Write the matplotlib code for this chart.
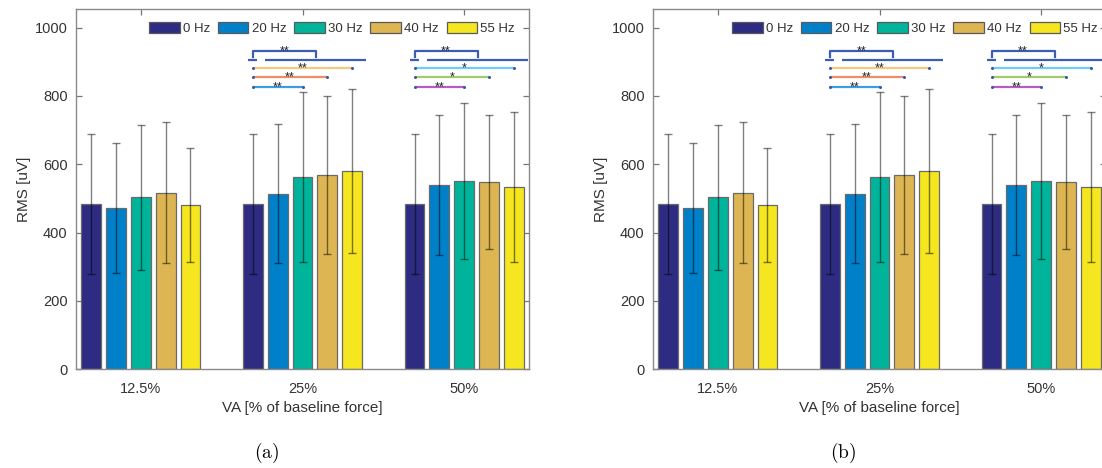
import matplotlib
matplotlib.use('Agg')
import matplotlib.pyplot as plt
from matplotlib.patches import Patch

plt.rcParams['font.family'] = ['Liberation Sans', 'DejaVu Sans']
plt.rcParams['mathtext.fontset'] = 'cm'

# ---- data ----
groups = ['12.5%', '25%', '50%']
series = ['0 Hz', '20 Hz', '30 Hz', '40 Hz', '55 Hz']
mean_0hz = [484, 485, 485]
mean_20hz = [472, 514, 540]
mean_30hz = [503, 562, 551]
mean_40hz = [517, 569, 548]
mean_55hz = [481, 580, 534]
sd_0hz = [205, 205, 205]
sd_20hz = [190, 203, 205]
sd_30hz = [211, 249, 227]
sd_40hz = [206, 232, 196]
sd_55hz = [168, 239, 219]
means = [mean_0hz, mean_20hz, mean_30hz, mean_40hz, mean_55hz]
sds = [sd_0hz, sd_20hz, sd_30hz, sd_40hz, sd_55hz]
colors = ['#2D2C82', '#0080C8', '#00B39B', '#DDB553', '#F5E61F']

# pairwise significance vs 0 Hz
sig_group = [1, 1, 1, 2, 2, 2]
sig_series = [2, 3, 4, 2, 3, 4]
sig_label = ['**', '**', '**', '**', '*', '*']
sig_color = ['#3A9EE6', '#F08C66', '#F6CA7E', '#B45CC4', '#A3CB6C', '#6DCFF5']
sig_level = [827, 855, 881, 827, 855, 881]
# 0 Hz vs. all other frequencies
block_group = [1, 2]
block_label = ['**', '**']
block_color = '#3B5EB4'
block_level = 905
bracket_top = 931
bracket_leg = 915

yticks = [0, 200, 400, 600, 800, 1000]

pitch = 0.769 / 5
bw = 0.8 * pitch


def draw_panel(ax, leg_right):
    for si in range(5):
        xs = [g + 1 + (si - 2) * pitch for g in range(3)]
        ax.bar(xs, means[si], width=bw, color=colors[si], edgecolor='#6a6a6a',
               linewidth=0.9, zorder=2)
        ax.errorbar(xs, means[si], yerr=sds[si], fmt='none', ecolor='k',
                    elinewidth=1.0, capsize=3.2, capthick=1.0, alpha=0.5, zorder=3)
    # pairwise lines
    for g, s, lab, c, lv in zip(sig_group, sig_series, sig_label, sig_color, sig_level):
        x0 = g + 1 + (0 - 2) * pitch
        x1 = g + 1 + (s - 2) * pitch
        ax.plot([x0, x1], [lv, lv], color=c, lw=1.6, solid_capstyle='butt', zorder=4)
        ax.plot([x0, x1], [lv, lv], ls='none', marker='o', ms=1.2, color='#3A5AA8', zorder=5)
        ax.annotate(lab, ((x0 + x1) / 2, lv), xytext=(0, -2.6), textcoords='offset points',
                    ha='center', va='baseline', fontsize=9, color='#222222', zorder=6)
    # block comparisons
    for g, lab in zip(block_group, block_label):
        c0 = g + 1 + (0 - 2) * pitch
        la = g + 1 + (1 - 2) * pitch - 0.075
        lb = g + 1 + (4 - 2) * pitch + 0.085
        ax.plot([c0 - 0.03, c0 + 0.026], [block_level, block_level], color=block_color,
                lw=1.6, solid_capstyle='butt', zorder=4)
        ax.plot([la, lb], [block_level, block_level], color=block_color, lw=1.6,
                solid_capstyle='butt', zorder=4, clip_on=False)
        xm = (la + lb) / 2
        ax.plot([c0, c0, xm, xm], [bracket_leg, bracket_top, bracket_top, bracket_leg],
                color=block_color, lw=1.6, zorder=4, solid_joinstyle='round')
        ax.annotate(lab, ((c0 + xm) / 2, bracket_top), xytext=(0, -2.6),
                    textcoords='offset points', ha='center', va='baseline', fontsize=9,
                    color='#222222', zorder=6)

    ax.set_xlim(0.6, 3.4)
    ax.set_ylim(0, 1053)
    ax.set_xticks([1, 2, 3])
    ax.set_xticklabels(groups)
    ax.set_yticks(yticks)
    ax.set_yticklabels([str(v) for v in yticks])
    ax.tick_params(direction='in', top=True, right=True, length=4, width=0.9,
                   color='#777777', labelsize=10.5, labelcolor='#333333', pad=6)
    ax.tick_params(axis='x', pad=9)
    for sp in ax.spines.values():
        sp.set_color('#8a8a8a')
        sp.set_linewidth(1.0)
        sp.set_zorder(7)
    ax.set_xlabel('VA [% of baseline force]', fontsize=11, color='#333333', labelpad=4)
    ax.set_ylabel('RMS [uV]', fontsize=11, color='#333333', labelpad=3)

    handles = [Patch(facecolor=colors[i], edgecolor='#5a5a5a', linewidth=0.9)
               for i in range(5)]
    ax.legend(handles, series, ncol=5, loc='center right',
              bbox_to_anchor=(leg_right, 0.947), frameon=False, fontsize=9.5,
              handlelength=2.3, handleheight=0.85, handletextpad=0.25,
              columnspacing=0.6, borderpad=0, borderaxespad=0,
              labelcolor='#333333')


fig = plt.figure(figsize=(11.02, 4.68), dpi=100)
W, H = 1102, 468
ax_a = fig.add_axes([76 / W, (H - 369.3) / H, 453 / W, 359.8 / H])
ax_b = fig.add_axes([653 / W, (H - 369.3) / H, 453 / W, 359.8 / H])
draw_panel(ax_a, 0.969)
draw_panel(ax_b, 0.982)

fig.text(267 / W, 1 - 452.7 / H, r'$\mathrm{(a)}$', fontsize=14, ha='center', va='center')
fig.text(843 / W, 1 - 452.7 / H, r'$\mathrm{(b)}$', fontsize=14, ha='center', va='center')

fig.savefig('out.png', dpi=100)
